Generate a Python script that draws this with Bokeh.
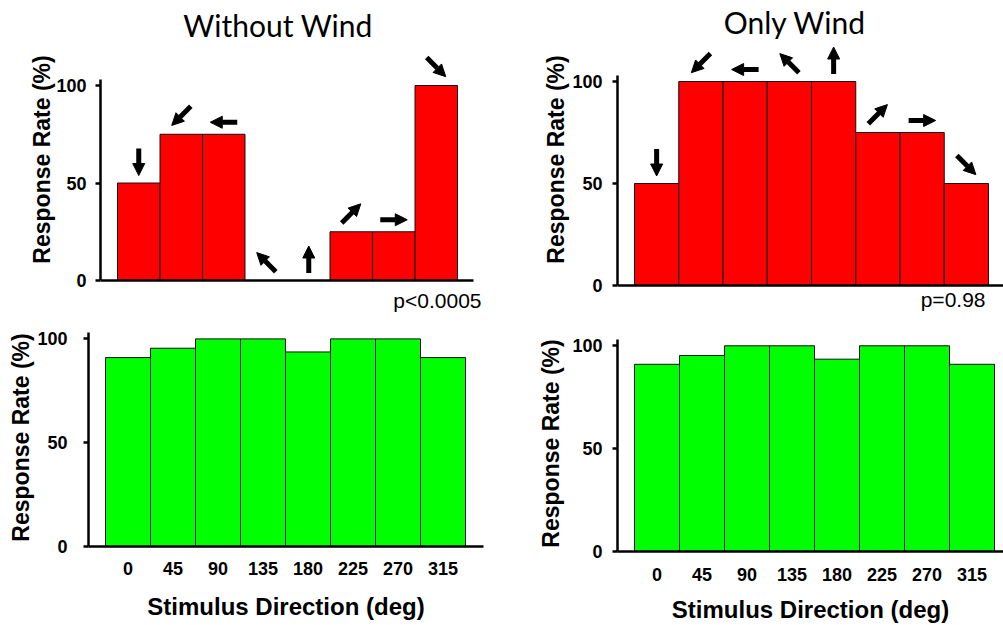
import math
from bokeh.plotting import figure
from bokeh.models import ColumnDataSource, FixedTicker, Arrow, NormalHead, Range1d, LinearAxis
from bokeh.core.properties import value
from bokeh.layouts import row, column
from bokeh.embed import file_html
from bokeh.resources import INLINE

# ---------------- data ----------------
directions = [0, 45, 90, 135, 180, 225, 270, 315]
direction_labels = ["0", "45", "90", "135", "180", "225", "270", "315"]
without_wind_rate = [50, 75, 75, 0, 0, 25, 25, 100]
only_wind_rate = [50, 100, 100, 100, 100, 75, 75, 50]
without_wind_green = [91, 95.5, 100, 100, 93.7, 100, 100, 91]
only_wind_green = [91, 95.3, 100, 100, 93.5, 100, 100, 91]
titles = ["Without Wind", "Only Wind"]
p_values = ["p<0.0005", "p=0.98"]
y_ticks = [0, 50, 100]

FONT = "Liberation Sans"
TEXT_SHIFT = 0.43  # empirical: glyph text sits this many em lower than requested


def style_yaxis(p, lab_standoff, title_standoff):
    ya = p.yaxis[0]
    ya.ticker = FixedTicker(ticks=y_ticks)
    ya.bounds = (0, 103)
    ya.axis_line_width = 2.5
    ya.major_tick_line_width = 2.5
    ya.major_tick_out = 5
    ya.major_tick_in = 0
    ya.minor_tick_line_color = None
    ya.major_label_text_font = FONT
    ya.major_label_text_font_style = "bold"
    ya.major_label_text_font_size = "18px"
    ya.major_label_text_color = "black"
    ya.major_label_standoff = lab_standoff
    ya.axis_label = "Response Rate (%)"
    ya.axis_label_text_font = FONT
    ya.axis_label_text_font_style = "bold"
    ya.axis_label_text_font_size = "23px"
    ya.axis_label_text_color = "black"
    ya.axis_label_standoff = title_standoff


def base_fig(width, height, borders, xr, yr, **kw):
    left, right, top, bottom = borders
    p = figure(width=width, height=height, output_backend="svg", toolbar_location=None,
               x_range=Range1d(*xr), y_range=Range1d(*yr),
               min_border_left=left, min_border_right=right,
               min_border_top=top, min_border_bottom=bottom, **kw)
    p.background_fill_color = "white"
    p.border_fill_color = "white"
    p.outline_line_color = None
    p.grid.visible = False
    return p


def bars(p, values, color):
    idx = list(range(len(values)))
    src = ColumnDataSource(dict(x=idx, top=values))
    p.vbar(x="x", top="top", bottom=0, width=1.0, source=src,
           fill_color=color, line_color="#111111", line_width=1)


def add_arrows(p, values, pxx, pxy):
    L = 27.0
    x0, y0, x1, y1 = [], [], [], []
    for i, (d, v) in enumerate(zip(directions, values)):
        th = math.radians(d)
        vx, vy = -math.sin(th), -math.cos(th)
        off = 12 + 9 * abs(math.cos(th))
        cy = v + off / pxy
        x0.append(i - vx * L / 2 / pxx)
        x1.append(i + vx * L / 2 / pxx)
        y0.append(cy - vy * L / 2 / pxy)
        y1.append(cy + vy * L / 2 / pxy)
    src = ColumnDataSource(dict(x0=x0, y0=y0, x1=x1, y1=y1))
    p.add_layout(Arrow(end=NormalHead(size=12, fill_color="black", line_color="black", line_width=1),
                       x_start="x0", y_start="y0", x_end="x1", y_end="y1",
                       line_width=5, line_color="black", source=src))


def top_panel(values, title, pval, width, height, left, bar_left_px, bar_w_px, axis_end_px,
              zero_px, px_per_unit, title_cx_px, title_base_px, p_right_px, p_base_px,
              lab_standoff, title_standoff):
    fw = width - left
    x_start = -0.5 - (bar_left_px - left) / bar_w_px
    x_end = x_start + fw / bar_w_px
    y_start = -(height - zero_px) / px_per_unit
    y_end = zero_px / px_per_unit
    p = base_fig(width, height, (left, 0, 0, 0), (x_start, x_end), (y_start, y_end),
                 x_axis_location=None)
    bars(p, values, "#ff0000")
    style_yaxis(p, lab_standoff, title_standoff)

    def dx(px):
        return x_start + (px - left) / bar_w_px

    def dy(px):
        return (zero_px - px) / px_per_unit

    xaxis = LinearAxis(fixed_location=0, ticker=FixedTicker(ticks=[]),
                       bounds=(x_start, dx(axis_end_px)), axis_line_width=2.5,
                       major_tick_out=0, major_tick_in=0, minor_tick_out=0, minor_tick_in=0,
                       major_label_text_font_size="0px")
    p.add_layout(xaxis, "below")
    add_arrows(p, values, bar_w_px, px_per_unit)

    p.text(x=[dx(title_cx_px)], y=[dy(title_base_px - TEXT_SHIFT * 30)], text=[title],
           text_font=value("Lato"), text_font_size="30px", text_align="center",
           text_baseline="alphabetic", text_color="black")
    p.text(x=[dx(p_right_px)], y=[dy(p_base_px - TEXT_SHIFT * 21)], text=[pval],
           text_font=value(FONT), text_font_size="21px", text_align="right",
           text_baseline="alphabetic", text_color="black")
    return p


def bottom_panel(values, width, height, borders, xr, yr, ylab_s, ytitle_s, xlab_s, xtitle_s):
    p = base_fig(width, height, borders, xr, yr)
    bars(p, values, "#00ff00")
    style_yaxis(p, ylab_s, ytitle_s)
    xa = p.xaxis[0]
    idx = list(range(len(values)))
    xa.axis_line_width = 2.5
    xa.minor_tick_line_color = None
    xa.major_tick_line_color = None
    xa.major_tick_out = 0
    xa.major_tick_in = 0
    xa.ticker = FixedTicker(ticks=idx)
    xa.major_label_overrides = {i: direction_labels[i] for i in idx}
    xa.major_label_text_font = FONT
    xa.major_label_text_font_style = "bold"
    xa.major_label_text_font_size = "18px"
    xa.major_label_text_color = "black"
    xa.major_label_standoff = xlab_s
    xa.axis_label = "Stimulus Direction (deg)"
    xa.axis_label_text_font = FONT
    xa.axis_label_text_font_style = "bold"
    xa.axis_label_text_font_size = "24px"
    xa.axis_label_text_color = "black"
    xa.axis_label_standoff = xtitle_s
    return p


W1, W2 = 510, 493
H1, H2 = 318, 307

p1 = top_panel(without_wind_rate, titles[0], p_values[0], W1, H1, 100,
               117, 42.5, 473, 280, 1.95, 277.5, 37, 481, 309, 9, -2)
p2 = top_panel(only_wind_rate, titles[1], p_values[1], W2, H1, 107,
               634 - W1, 44.25, 1003 - W1, 285, 2.04, 794.5 - W1, 34, 985 - W1, 308, 10, 0)

p3 = bottom_panel(without_wind_green, W1, H2, (88, 27, 10, 79),
                  (-0.878, 7.9), (0, 105), 16, 0, 15, 15)
p4 = bottom_panel(only_wind_green, W2, H2, (107, 0, 17, 73),
                  (-0.878, 7.7), (0, 105), 10, 5, 16, 12)

layout = column(row(column(p1), column(p2)), row(column(p3), column(p4)))
open("out.html", "w").write(file_html(layout, INLINE))
